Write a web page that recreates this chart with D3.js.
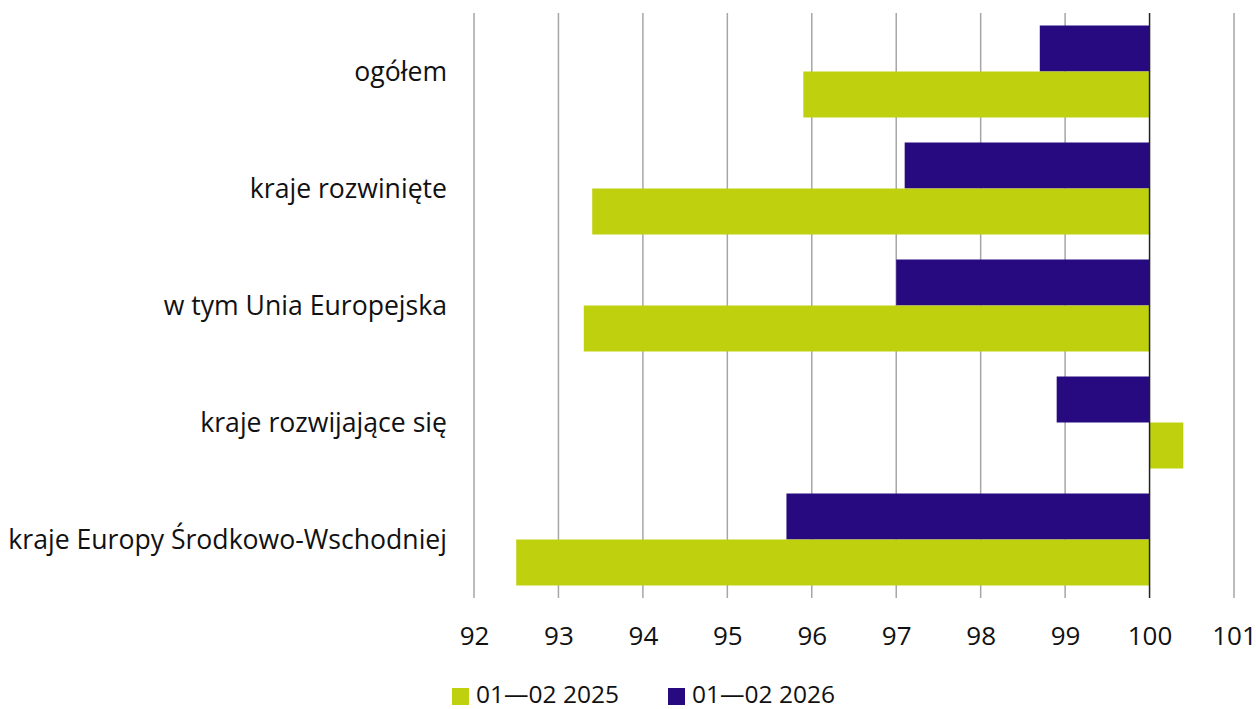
<!DOCTYPE html>
<html>
<head>
<meta charset="utf-8">
<script src="https://cdn.jsdelivr.net/npm/d3@7"></script>
<style>
  html, body { margin: 0; padding: 0; background: #fff; }
  svg { display: block; font-family: "Open Sans", "Noto Sans", sans-serif; }
</style>
</head>
<body>
<svg id="chart" width="1256" height="709"></svg>
<script>
// Indeksy (rok poprzedni = 100)
const categories = [
  "ogółem",
  "kraje rozwinięte",
  "w tym Unia Europejska",
  "kraje rozwijające się",
  "kraje Europy Środkowo-Wschodniej"
];
const seriesNames = ["01—02 2026", "01—02 2025"];
const values2026 = [98.7, 97.1, 97.0, 98.9, 95.7];
const values2025 = [95.9, 93.4, 93.3, 100.4, 92.5];
const tickValues = [92, 93, 94, 95, 96, 97, 98, 99, 100, 101];
const baseValue = 100;

const colors = { "01—02 2025": "#bfd10e", "01—02 2026": "#270a80" };

const svg = d3.select("#chart");
const plot = { left: 474, right: 1234, top: 13, bottom: 598 };

const x = d3.scaleLinear().domain([92, 101]).range([plot.left, plot.right]);
const p = 25 / 117;
const y = d3.scaleBand().domain(categories).range([plot.top, plot.bottom])
  .paddingInner(p).paddingOuter(p / 2);
const ySub = d3.scaleBand().domain(seriesNames).range([0, y.bandwidth()]);

// siatka pionowa
svg.append("g").selectAll("line").data(tickValues.filter(v => v !== baseValue))
  .join("line")
  .attr("x1", d => x(d)).attr("x2", d => x(d))
  .attr("y1", plot.top).attr("y2", plot.bottom)
  .attr("stroke", "#a6a6a6").attr("stroke-width", 1.5);

// słupki
const rows = categories.map((c, i) => ({ c, v: { "01—02 2026": values2026[i], "01—02 2025": values2025[i] } }));
const g = svg.append("g");
rows.forEach(r => {
  seriesNames.forEach(s => {
    const v = r.v[s];
    g.append("rect")
      .attr("x", x(Math.min(v, baseValue)))
      .attr("width", Math.abs(x(v) - x(baseValue)))
      .attr("y", y(r.c) + ySub(s))
      .attr("height", ySub.bandwidth())
      .attr("fill", colors[s]);
  });
});

// linia bazowa 100
svg.append("line")
  .attr("x1", x(baseValue)).attr("x2", x(baseValue))
  .attr("y1", plot.top).attr("y2", plot.bottom)
  .attr("stroke", "#222").attr("stroke-width", 1.5);

// etykiety osi X
const xAxis = d3.axisBottom(x).tickValues(tickValues).tickSize(0).tickPadding(0).tickFormat(d3.format("d"));
const ax = svg.append("g").attr("transform", `translate(0,${plot.bottom})`).call(xAxis);
ax.select(".domain").remove();
ax.selectAll("text").attr("y", 47).attr("dy", null)
  .attr("font-size", 26).attr("fill", "#111").style("font-family", "'Open Sans', sans-serif");

// etykiety kategorii
const yAxis = d3.axisLeft(y).tickSize(0).tickPadding(0);
const ay = svg.append("g").attr("transform", `translate(447,0)`).call(yAxis);
ay.select(".domain").remove();
ay.selectAll("text").attr("font-size", 26.6).attr("fill", "#111")
  .attr("dy", "0.35em").style("font-family", "'Open Sans', sans-serif");

// legenda
const legend = svg.append("g");
const legendItems = [
  { name: "01—02 2025", x: 452 },
  { name: "01—02 2026", x: 668 }
];
legendItems.forEach(it => {
  legend.append("rect").attr("x", it.x).attr("y", 688).attr("width", 17).attr("height", 17)
    .attr("fill", colors[it.name]);
  legend.append("text").attr("x", it.x + 24).attr("y", 703)
    .attr("font-size", 24.5).attr("fill", "#111").text(it.name);
});
</script>
</body>
</html>
